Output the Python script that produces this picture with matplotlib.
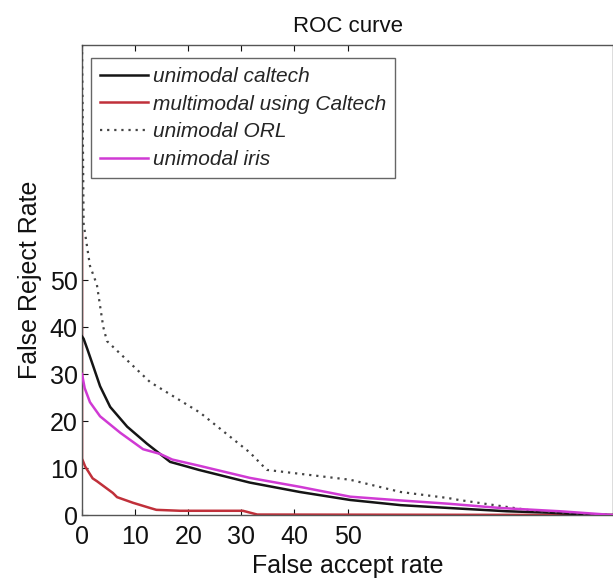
import matplotlib
matplotlib.use('Agg')
import matplotlib.pyplot as plt

plt.rcParams['font.family'] = ['Liberation Sans', 'DejaVu Sans']

# curve points (false accept rate, false reject rate)
caltech_far = [0, 0.3, 1.0, 2.1, 3.4, 5.3, 8.5, 12.2, 16.6, 19.8, 22, 31.6, 41, 50.5, 60, 69, 80, 88, 95, 100]
caltech_frr = [38, 37.5, 35.3, 31.7, 27.4, 23, 18.8, 15.2, 11.3, 10.3, 9.6, 6.9, 4.9, 3.2, 2.1, 1.5, 0.8, 0.5, 0.1, 0]

multi_far = [0, 0, 0.6, 2.0, 2.8, 5.8, 6.6, 9.6, 12.8, 14, 18.5, 30.3, 33, 100]
multi_frr = [60, 12, 10.3, 7.8, 7.2, 4.7, 3.8, 2.6, 1.5, 1.1, 0.9, 0.9, 0.1, 0]

orl_far = [0, 0.3, 1.5, 2.8, 4.0, 4.7, 12.8, 22.2, 31.6, 34.8, 50.5, 60, 69, 71, 85, 95, 100]
orl_frr = [100, 62, 53, 49, 40, 37, 28.3, 21.8, 13.3, 9.6, 7.5, 4.9, 3.6, 3.2, 0.9, 0.2, 0]

iris_far = [0, 0.5, 1.5, 3.4, 7.2, 11.5, 14.7, 17, 22, 31.6, 41, 50.5, 60, 69, 78.7, 90, 97.5, 100]
iris_frr = [30, 27, 24, 21, 17.5, 14, 13, 11.8, 10.5, 7.9, 6, 3.9, 3.1, 2.4, 1.5, 0.8, 0.2, 0]

x_ticks = [0, 10, 20, 30, 40, 50]
y_ticks = [0, 10, 20, 30, 40, 50]

fig = plt.figure(figsize=(6.13, 5.82), dpi=100)
ax = fig.add_axes([0.1338, 0.1151, 0.8662, 0.8076])

ax.plot(multi_far, multi_frr, color='#c0303a', lw=1.8, label='multimodal using Caltech', zorder=2)
ax.plot(caltech_far, caltech_frr, color='#151515', lw=1.8, label='unimodal caltech', zorder=3)
ax.plot(orl_far, orl_frr, color='#444444', lw=1.6, linestyle=(0, (1, 2.2)), label='unimodal ORL', zorder=3)
ax.plot(iris_far, iris_frr, color='#d03ad4', lw=1.8, label='unimodal iris', zorder=4)

ax.set_xlim(0, 100)
ax.set_ylim(0, 100)
ax.set_xticks(x_ticks)
ax.set_yticks(y_ticks)
ax.tick_params(direction='in', length=4, width=0.8, labelsize=18, colors='#111111')
ax.tick_params(axis='x', top=True, pad=7)
ax.tick_params(axis='y', pad=3)
for s in ax.spines.values():
    s.set_color('#555555')
    s.set_linewidth(1.0)

ax.set_title('ROC curve', fontsize=16, pad=9, color='#111111')
ax.set_xlabel('False accept rate', fontsize=18, labelpad=4, color='#111111')
ax.set_ylabel('False Reject Rate', fontsize=18, labelpad=6, color='#111111')

# legend in the order of the original figure
h, l = ax.get_legend_handles_labels()
order = [1, 0, 2, 3]
leg = ax.legend([h[i] for i in order], [l[i] for i in order], loc='upper left',
                bbox_to_anchor=(0.017, 0.972), borderaxespad=0, fancybox=False,
                prop={'style': 'italic', 'size': 15}, handlelength=2.3,
                handletextpad=0.25, labelspacing=0.42, borderpad=0.42, framealpha=1)
leg.get_frame().set_edgecolor('#666666')
leg.get_frame().set_linewidth(1.0)
for t in leg.get_texts():
    t.set_color('#252525')

fig.savefig('out.png', dpi=100)
